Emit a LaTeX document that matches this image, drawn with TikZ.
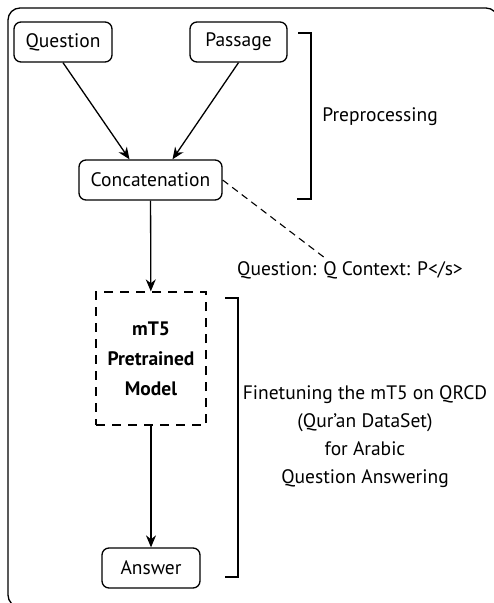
\documentclass[tikz,border=0pt]{standalone}
\usepackage{fontspec}
\setmainfont{PT Sans}
\usetikzlibrary{arrows.meta}
\begin{document}
\begin{tikzpicture}[x=1pt, y=-1pt, font=\fontsize{19.5}{28}\selectfont,
    box/.style={draw, line width=1.3pt, rounded corners=7pt, minimum height=40pt, inner xsep=6pt},
    arr/.style={-{Stealth[length=12pt,width=10pt]}, line width=1.3pt},
    brace/.style={line width=1.3pt}]
    \useasboundingbox (0,0) rectangle (494,603);
    % outer frame
    \draw[line width=1.3pt, rounded corners=12pt] (8,8) rectangle (498,607);
    % inputs and preprocessing
    \node[box, minimum width=98pt] (quest) at (63,42) {Question};
    \node[box, minimum width=97pt] (pass) at (238.5,42) {Passage};
    \node[box, minimum width=143pt] (concat) at (150.5,180) {Concatenation};
    \draw[arr] (quest.south) -- ([xshift=-21pt]concat.north);
    \draw[arr] (pass.south) -- ([xshift=22pt]concat.north);
    \draw[brace] (298,33) -- (311,33) -- (311,199) -- (297,199);
    \node (prep) at (380,117) {Preprocessing};
    % input format
    \node (fmt) at (350,270) {Question: Q Context: P</s>};
    \coordinate (fmtend) at (325,258);
    \draw[line width=1.1pt, dash pattern=on 7pt off 5pt] (concat.east) -- (fmtend);
    % model and answer
    \node[draw, line width=1.3pt, dash pattern=on 9pt off 7pt, minimum width=110pt, minimum height=133pt,
          align=center, font=\fontsize{19.5}{30}\selectfont\bfseries] (mt5) at (151,358.5) {mT5\\Pretrained\\Model};
    \node[box, minimum width=98pt] (ans) at (151,568) {Answer};
    \draw[arr] (concat) -- (mt5);
    \draw[arr] (mt5) -- (ans);
    \draw[brace] (225,298) -- (238,298) -- (238,577) -- (225,577);
    \node[align=center] (fine) at (365,437) {Finetuning the mT5 on QRCD\\(Qur’an DataSet)\\for Arabic\\Question Answering};
\end{tikzpicture}
\end{document}
